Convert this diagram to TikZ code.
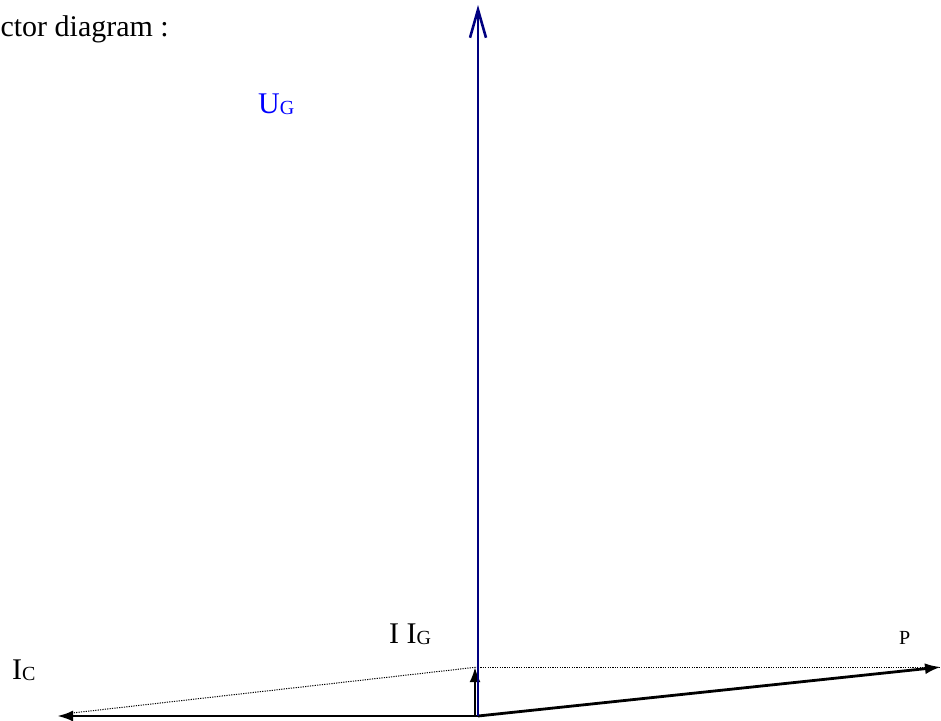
\documentclass[tikz,border=0pt]{standalone}
\usepackage{fontspec}
\setmainfont{Liberation Serif}
\usetikzlibrary{arrows.meta}
\definecolor{navyarrow}{RGB}{0,0,128}
\definecolor{textblue}{RGB}{0,0,255}
\newcommand{\bigtxt}{\fontsize{30}{35}\selectfont}
\newcommand{\subtxt}[1]{\raisebox{-1.5pt}{\fontsize{20}{24}\selectfont #1}}
\tikzset{
  vec/.style={line width=2.8pt, -{Latex[length=16pt,width=11pt]}},
  smallvec/.style={line width=2.6pt, -{Latex[length=15pt,width=11pt]}},
  uvec/.style={navyarrow, line width=2.6pt, -{Straight Barb[length=28pt,width=16pt,line width=2.6pt]}},
  helper/.style={line width=1pt, dash pattern=on 1.2pt off 1.2pt},
  lbl/.style={inner sep=0pt, font=\bigtxt},
}
\begin{document}
\begin{tikzpicture}[x=1pt,y=-1pt]
\useasboundingbox (0,0) rectangle (941,720);
% points
\coordinate (O) at (478,716);
\coordinate (Og) at (475,716);
\coordinate (Utip) at (478,5);
\coordinate (Gtip) at (475,667);
\coordinate (Gtop) at (478,667);
\coordinate (Ctip) at (57,716);
\coordinate (Cend) at (72,713);
\coordinate (Ptip) at (941,667);
% helper dotted lines
\draw[helper] (Gtop) -- (Ptip);
\draw[helper] (Gtop) -- (Cend);
% vectors
\draw[vec] (O) -- (Ctip);
\draw[vec] (O) -- (Ptip);
\draw[smallvec] (Og) -- (Gtip);
\draw[uvec] (O) -- (Utip);
% labels
\node[lbl, anchor=base east] (title) at (169,36) {Vector diagram :};
\node[lbl, anchor=base west, text=textblue] (ug) at (258,113) {U\subtxt{G}};
\node[lbl, anchor=base west] (iig) at (389,643) {I I\subtxt{G}};
\node[lbl, anchor=base west] (ic) at (12,679) {I\subtxt{C}};
\node[inner sep=0pt, anchor=base west, font=\fontsize{20}{24}\selectfont] (p) at (899,644) {P};
\end{tikzpicture}
\end{document}
